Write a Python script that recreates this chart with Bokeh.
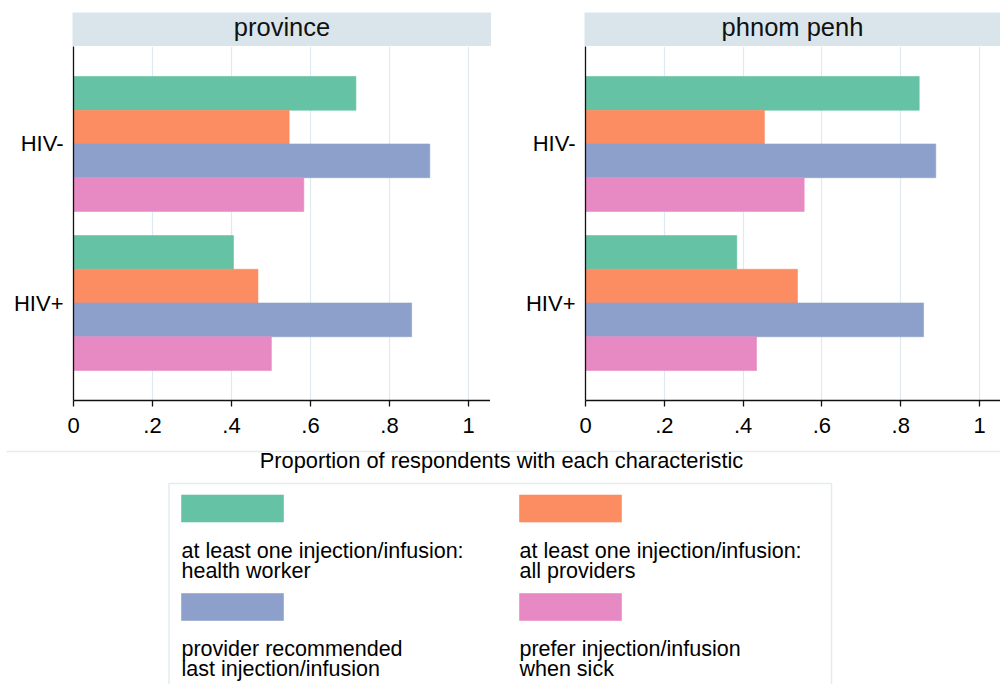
from bokeh.plotting import figure
from bokeh.layouts import column, row
from bokeh.models import Range1d, FixedTicker
from bokeh.core.properties import value
from bokeh.embed import file_html
from bokeh.resources import INLINE

# ---------------- data ----------------
panels = ["province", "phnom penh"]
groups = ["HIV-", "HIV+"]
series_labels = [
    "at least one injection/infusion:\nhealth worker",
    "at least one injection/infusion:\nall providers",
    "provider recommended\nlast injection/infusion",
    "prefer injection/infusion\nwhen sick",
]
colors = ["#66c2a5", "#fc8d62", "#8da0cb", "#e78ac3"]

# values per series: [HIV-, HIV+]
province_health_worker = [0.715, 0.405]
province_all_providers = [0.546, 0.467]
province_provider_recommended = [0.902, 0.856]
province_prefer_injection = [0.583, 0.501]

phnompenh_health_worker = [0.847, 0.384]
phnompenh_all_providers = [0.454, 0.538]
phnompenh_provider_recommended = [0.889, 0.858]
phnompenh_prefer_injection = [0.555, 0.434]

x_ticks = [0, 0.2, 0.4, 0.6, 0.8, 1]
x_tick_labels = ["0", ".2", ".4", ".6", ".8", "1"]
axis_title = "Proportion of respondents with each characteristic"

panel_values = [
    [province_health_worker, province_all_providers,
     province_provider_recommended, province_prefer_injection],
    [phnompenh_health_worker, phnompenh_all_providers,
     phnompenh_provider_recommended, phnompenh_prefer_injection],
]

# ---------------- style / layout ----------------
FONT = "Liberation Sans"
STRIP = "#d9e5eb"
GRID = "#dfeaf0"
FAINT = "#e2ecf1"
BAR_H = 0.2122
Y_LO, Y_HI = -0.613, 1.613
FRAME_H = 354
BOTTOM_B = 40
BASE_FIX = 0.37  # svg alphabetic-baseline correction, in em

group_pos = {g: len(groups) - 1 - i for i, g in enumerate(groups)}


def base_fig(width, height, xr, yr, **kw):
    p = figure(width=width, height=height, x_range=xr, y_range=yr,
               output_backend="svg", toolbar_location=None,
               title_location=None, **kw)
    p.outline_line_color = None
    p.background_fill_color = "white"
    p.border_fill_color = "white"
    return p


def make_strip(name, left, frame_w):
    p = base_fig(left + frame_w, 46, Range1d(0, frame_w), Range1d(46, 12),
                 x_axis_type=None, y_axis_type=None,
                 min_border_left=left, min_border_right=0,
                 min_border_top=12, min_border_bottom=0)
    p.background_fill_color = STRIP
    p.grid.visible = False
    fs = 25.5
    p.text(x=[frame_w / 2], y=[36 - BASE_FIX * fs], text=[name],
           text_font=value(FONT), text_font_size=f"{fs}px",
           text_align="center", text_baseline="alphabetic",
           text_color="#111111")
    return p


def make_panel(vals, left, frame_w, x_end):
    p = base_fig(left + frame_w, FRAME_H + BOTTOM_B, Range1d(0, x_end),
                 Range1d(Y_LO, Y_HI),
                 min_border_left=left, min_border_right=0,
                 min_border_top=0, min_border_bottom=BOTTOM_B)
    n = len(vals)
    for k, (sv, c) in enumerate(zip(vals, colors)):
        ys = [group_pos[g] + (n / 2 - 0.5 - k) * BAR_H for g in groups]
        p.hbar(y=ys, left=0, right=sv, height=BAR_H, fill_color=c,
               line_color=c, line_width=0.6)
    # x axis
    xa = p.xaxis[0]
    xa.ticker = FixedTicker(ticks=x_ticks)
    xa.major_label_overrides = {t: l for t, l in zip(x_ticks, x_tick_labels)}
    xa.minor_tick_line_color = None
    xa.major_tick_out = 6
    xa.major_tick_in = 0
    xa.major_label_standoff = 11
    xa.major_label_text_font = FONT
    xa.major_label_text_font_size = "22px"
    xa.major_label_text_color = "black"
    xa.axis_line_color = "#111111"
    xa.axis_line_width = 1.3
    xa.major_tick_line_color = "#111111"
    xa.major_tick_line_width = 1.3
    # y axis
    ya = p.yaxis[0]
    ya.ticker = FixedTicker(ticks=[group_pos[g] for g in groups])
    ya.major_label_overrides = {group_pos[g]: g for g in groups}
    ya.minor_tick_line_color = None
    ya.major_tick_out = 0
    ya.major_tick_in = 0
    ya.major_label_standoff = 10
    ya.major_label_text_font = FONT
    ya.major_label_text_font_size = "22px"
    ya.major_label_text_color = "black"
    ya.axis_line_color = "#111111"
    ya.axis_line_width = 1.3
    # grid
    p.xgrid.ticker = FixedTicker(ticks=x_ticks[1:])
    p.xgrid.grid_line_color = GRID
    p.xgrid.grid_line_width = 1.2
    p.ygrid.visible = False
    return p


strip1 = make_strip(panels[0], 72, 419)
strip2 = make_strip(panels[1], 93, 416)
p1 = make_panel(panel_values[0], 73, 417, 417 / 395)
p2 = make_panel(panel_values[1], 95, 415, 415 / 394)

# ---------------- bottom: axis title + legend ----------------
W_TOTAL = 1000
bot = base_fig(W_TOTAL, 244, Range1d(0, 1000), Range1d(684, 440),
               x_axis_type=None, y_axis_type=None,
               min_border_left=0, min_border_right=0,
               min_border_top=0, min_border_bottom=0)
bot.grid.visible = False
bot.segment(x0=[6], y0=[451], x1=[1000], y1=[451], line_color=FAINT,
            line_width=1.5)
fs_t = 21.8
bot.text(x=[501], y=[468 - BASE_FIX * fs_t], text=[axis_title],
         text_font=value(FONT), text_font_size=f"{fs_t}px",
         text_align="center", text_baseline="alphabetic",
         text_color="black")
bot.quad(left=[168.5], right=[831], top=[483], bottom=[700],
         fill_color="white", line_color=FAINT, line_width=1.5)

col_x = [181, 519]
row_top = [494.5, 593]
sw_w, sw_h = 102, 27
fs_l = 21.5
sx0, sx1, sy0, sy1 = [], [], [], []
tx, ty, tt = [], [], []
for i, (lab, c) in enumerate(zip(series_labels, colors)):
    cx = col_x[i % 2]
    ry = row_top[i // 2]
    sx0.append(cx); sx1.append(cx + sw_w)
    sy0.append(ry); sy1.append(ry + sw_h)
    for j, line in enumerate(lab.split("\n")):
        tx.append(cx)
        ty.append(ry + 63.5 + 20 * j - BASE_FIX * fs_l)
        tt.append(line)
bot.quad(left=sx0, right=sx1, top=sy0, bottom=sy1, fill_color=colors,
         line_color=colors, line_width=0.6)
bot.text(x=tx, y=ty, text=tt, text_font=value(FONT),
         text_font_size=f"{fs_l}px", text_align="left",
         text_baseline="alphabetic", text_color="black")

layout = column(row(strip1, strip2, spacing=0),
                row(p1, p2, spacing=0),
                bot, spacing=0)

open("out.html", "w").write(file_html(layout, INLINE))
